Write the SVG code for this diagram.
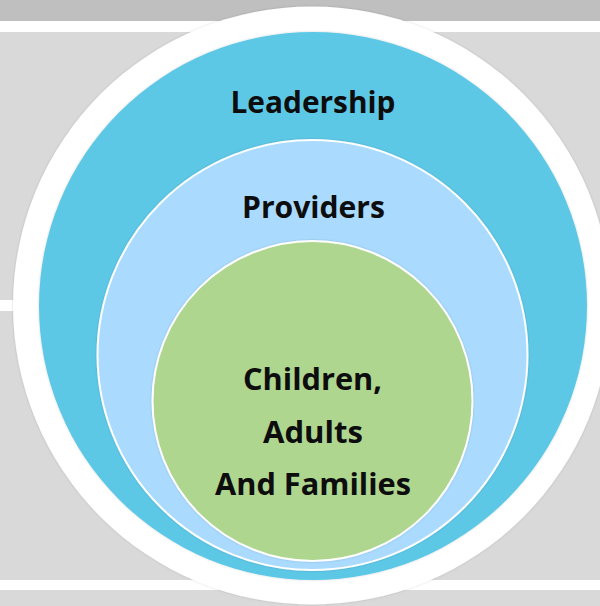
<svg xmlns="http://www.w3.org/2000/svg" width="600" height="606" viewBox="0 0 600 606">
  <style>
    .band-dark { fill: #BFBFBF; }
    .band { fill: #D9D9D9; }
    .label { font-family: "Open Sans", "Liberation Sans", sans-serif; font-weight: bold; fill: #0D0D0D; text-anchor: middle; font-size: 30px; }
  </style>
  <defs>
    <filter id="soft" x="-5%" y="-5%" width="110%" height="110%">
      <feGaussianBlur in="SourceAlpha" stdDeviation="1.2"/>
      <feOffset dx="0" dy="0" result="b"/>
      <feFlood flood-color="#000" flood-opacity="0.18"/>
      <feComposite in2="b" operator="in"/>
      <feMerge><feMergeNode/><feMergeNode in="SourceGraphic"/></feMerge>
    </filter>
  </defs>

  <!-- background panels -->
  <rect x="0" y="0" width="600" height="606" fill="#FFFFFF"/>
  <rect class="band-dark" x="0" y="0" width="600" height="21"/>
  <rect class="band" x="0" y="32" width="600" height="268"/>
  <rect class="band" x="0" y="311" width="600" height="269"/>
  <rect class="band" x="0" y="590" width="600" height="16"/>

  <!-- outer white ring -->
  <g id="ring">
    <circle cx="312" cy="305.5" r="299" fill="#FFFFFF" filter="url(#soft)"/>
  </g>

  <g id="leadership">
    <circle cx="313" cy="306" r="274" fill="#5DC8E6" filter="url(#soft)"/>
    <text class="label" x="313" y="113" textLength="165" lengthAdjust="spacingAndGlyphs">Leadership</text>
  </g>

  <g id="providers">
    <circle cx="312.5" cy="355" r="215" fill="#AADBFE" stroke="#FFFFFF" stroke-width="2" filter="url(#soft)"/>
    <text class="label" x="313.5" y="218" textLength="143" lengthAdjust="spacingAndGlyphs">Providers</text>
  </g>

  <g id="families">
    <circle cx="312.5" cy="401" r="160" fill="#AED68F" stroke="#FFFFFF" stroke-width="2" filter="url(#soft)"/>
    <text class="label" x="312.5" y="390" textLength="139" lengthAdjust="spacingAndGlyphs">Children,</text>
    <text class="label" x="313" y="443" textLength="100" lengthAdjust="spacingAndGlyphs">Adults</text>
    <text class="label" x="313" y="495" textLength="196" lengthAdjust="spacingAndGlyphs">And Families</text>
  </g>

  <g id="connectors"/>
</svg>
